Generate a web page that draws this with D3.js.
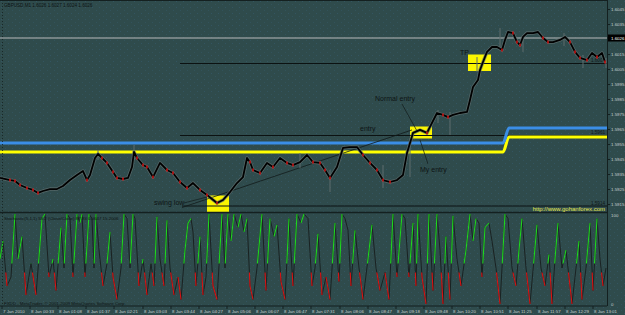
<!DOCTYPE html>
<html>
<head>
<meta charset="utf-8">
<script src="https://cdn.jsdelivr.net/npm/d3@7"></script>
<style>
  html, body { margin: 0; padding: 0; background: #2f4b4c; overflow: hidden; }
  svg { display: block; }
</style>
</head>
<body>
<div id="chart"></div>
<script>
// GBPUSD M1 chart with stochastic sub-window, MetaTrader look.

// ---- data -------------------------------------------------------------
const priceBar = [0,10,15,20,27,33,38,43,50,57,63,70,77,83,87,90,95,98,102,107,113,117,123,128,132,134,137,143,147,153,
  160,167,173,180,187,193,200,207,217,223,230,237,243,247,250,253,260,267,273,280,287,293,300,307,313,320,325,330,337,343,
  350,357,363,370,377,383,390,397,403,407,410,413,420,427,430,437,443,448,453,460,467,470,473,478,480,483,487,492,497,502,
  505,508,513,517,520,523,527,533,538,543,548,553,560,565,570,575,580,587,592,597,602,605];
const priceClose = [1.59327,1.59313,1.59307,1.5928,1.5926,1.59247,1.59227,1.5924,1.59253,1.59253,1.59273,1.59313,1.59347,1.59373,1.59313,1.59347,1.5946,1.59487,1.5946,1.59427,
  1.59367,1.59327,1.5932,1.59327,1.594,1.595,1.5946,1.59413,1.594,1.59333,1.59427,1.5938,1.5936,1.593,1.5926,1.59293,1.59247,1.59213,1.5916,1.5918,
  1.59233,1.59293,1.59333,1.5946,1.59433,1.5938,1.5936,1.59427,1.594,1.5946,1.59427,1.59413,1.59433,1.5948,1.59433,1.59427,1.5938,1.59327,1.594,1.59527,
  1.59533,1.59533,1.5948,1.59427,1.5938,1.59313,1.593,1.59313,1.59347,1.59493,1.5956,1.59627,1.59647,1.59627,1.59667,1.5976,1.59747,1.59733,1.59747,1.5976,
  1.59767,1.59847,1.59933,1.5998,1.60047,1.601,1.60167,1.602,1.602,1.6018,1.60247,1.603,1.60293,1.60233,1.60213,1.60267,1.60293,1.60293,1.603,1.6026,
  1.60233,1.60233,1.60247,1.60267,1.60233,1.60167,1.60127,1.60113,1.6016,1.60133,1.6016,1.601];

// isolated long wicks
const spikeBar  = [98, 134, 300, 330, 383, 410, 438, 450, 477, 500, 523, 564, 583, 606];
const spikeHigh = [1.59513,1.59547,1.59493,1.5938,1.59413,1.59593,1.5978,1.59767,1.60133,1.60327,1.6028,1.60293,1.60147,1.60127];
const spikeLow  = [1.59447,1.59447,1.59393,1.59233,1.5926,1.59333,1.59693,1.59613,1.60033,1.6018,1.60167,1.60207,1.6006,1.6006];

// indicator levels (blue / yellow), stepping up late in the session
const levelBar    = [0, 503, 509, 607];
const blueLevel   = [1.5956, 1.5956, 1.5966, 1.5966];
const yellowLevel = [1.5950, 1.5950, 1.5960, 1.5960];

// manual horizontal lines
const hLinePrice = [1.6009, 1.5961, 1.5914];
const hLineFrom  = [180, 180, 182];

// highlight boxes
const boxBar0 = [207, 410, 468];
const boxBar1 = [229, 432, 491];
const boxLo   = [1.5910, 1.5959, 1.6004];
const boxHi   = [1.5921, 1.5967, 1.6015];

// trend line from the swing low
const trendBar = [182, 412];
const trendVal = [1.5913, 1.59647];

const lastPrice  = 1.6026;
const priceTicks = [1.6045,1.6035,1.6015,1.6005,1.5995,1.5985,1.5975,1.5965,1.5955,1.5945,1.5935,1.5925,1.5915];

const timeBars   = [2,30,58,86,114,143,171,199,227,255,283,311,340,368,396,424,452,480,508,537,565,593];
const timeLabels = ['7 Jan 2010','8 Jan 00:33','8 Jan 01:08','8 Jan 01:37','8 Jan 02:21','8 Jan 03:03','8 Jan 03:44',
  '8 Jan 04:27','8 Jan 05:06','8 Jan 06:07','8 Jan 06:47','8 Jan 07:31','8 Jan 08:06','8 Jan 08:47','8 Jan 09:18',
  '8 Jan 09:48','8 Jan 10:20','8 Jan 10:51','8 Jan 11:25','8 Jan 11:57','8 Jan 12:29','8 Jan 13:01'];

// stochastic
const oscBar = [0,3,7,11,15,18,22,26,31,36,42,45,49,53,56,61,64,67,70,73,77,80,82,85,89,92,94,96,99,103,107,110,113,117,121,124,127,130,133,135,
  139,143,147,151,154,157,160,164,167,170,174,178,181,185,188,191,193,196,200,203,206,209,213,217,222,225,228,231,234,238,241,244,247,250,253,257,
  262,266,270,274,277,281,285,289,293,297,301,304,308,312,315,318,322,326,330,335,339,342,345,348,351,355,359,363,368,372,376,380,385,389,393,397,
  402,405,409,413,416,418,422,426,429,433,437,440,443,446,450,453,457,461,466,470,473,476,479,482,485,489,492,496,500,505,508,512,516,519,522,526,
  530,534,537,541,545,549,552,555,558,562,566,569,572,576,579,582,586,590,593,597,600,603,606];
const oscVal = [50,70,20,30,100,50,75,10,45,10,95,100,30,50,15,85,40,100,95,30,100,90,100,30,100,95,40,100,60,20,45,80,30,5,40,100,95,40,100,95,
  20,50,10,45,20,97,50,20,93,40,10,30,5,60,90,95,80,20,75,10,30,100,20,5,100,40,100,70,100,85,100,80,95,20,5,40,
  100,15,95,75,88,25,5,95,20,100,90,100,95,20,40,78,10,30,5,90,25,100,95,82,20,82,40,5,50,88,40,15,35,5,100,30,
  100,95,30,90,20,100,30,0,100,15,100,60,0,75,5,98,50,20,60,100,70,95,90,30,85,90,70,40,0,100,95,40,20,60,95,40,
  0,50,88,40,20,55,0,50,90,40,60,30,0,40,70,5,40,90,15,95,50,20,40];

// ---- layout -----------------------------------------------------------
const W = 625, H = 315;
const plotR = 607;
const mainTop = 2, mainBot = 212, oscTop = 213, oscBot = 305;

const C = {
  bg: '#2f4b4c', dot: '#3c6d92', frame: '#142020', text: '#0e1414', axis: '#c6cfcf',
  price: '#000000', shadow: '#5f6d6d', red: '#d81414', green: '#1fd61f',
  blue: '#3b8ee6', yellow: '#ffff00', box: '#fbf500', last: '#b9b9b9'
};
const FONT = '"Liberation Sans", Arial, sans-serif';

const x  = d3.scaleLinear().domain([0, 607]).range([0, plotR]);
const yP = d3.scaleLinear().domain([lastPrice, 1.5914]).range([38, 206]);
const yS = d3.scaleLinear().domain([0, 100]).range([304, 214]);

const svg = d3.select('#chart').append('svg')
  .attr('width', W).attr('height', H)
  .attr('viewBox', `0 0 ${W} ${H}`);

const defs = svg.append('defs');
const pat = defs.append('pattern').attr('id', 'speck')
  .attr('width', 7).attr('height', 6).attr('patternUnits', 'userSpaceOnUse');
pat.append('rect').attr('width', 7).attr('height', 6).attr('fill', C.bg);
pat.append('rect').attr('x', 1).attr('y', 1).attr('width', 1).attr('height', 1).attr('fill', C.dot).attr('opacity', 0.3);
pat.append('rect').attr('x', 5).attr('y', 4).attr('width', 1).attr('height', 1).attr('fill', C.dot).attr('opacity', 0.22);

defs.append('clipPath').attr('id', 'clipMain').append('rect')
  .attr('x', 0).attr('y', mainTop).attr('width', plotR).attr('height', mainBot - mainTop);
defs.append('clipPath').attr('id', 'clipOsc').append('rect')
  .attr('x', 0).attr('y', oscTop).attr('width', plotR).attr('height', oscBot - oscTop);
// upper and lower zones for colouring the stochastic
defs.append('clipPath').attr('id', 'clipHigh').append('rect')
  .attr('x', 0).attr('y', oscTop).attr('width', plotR).attr('height', yS(45) - oscTop);
defs.append('clipPath').attr('id', 'clipLow').append('rect')
  .attr('x', 0).attr('y', yS(35)).attr('width', plotR).attr('height', oscBot - yS(35));

svg.append('rect').attr('width', W).attr('height', H).attr('fill', 'url(#speck)');

// ---- main panel -------------------------------------------------------
const main = svg.append('g').attr('clip-path', 'url(#clipMain)');

// current price line
main.append('line')
  .attr('x1', 0).attr('x2', plotR)
  .attr('y1', yP(lastPrice)).attr('y2', yP(lastPrice))
  .attr('stroke', C.last).attr('stroke-width', 1);

// highlight boxes
main.selectAll('rect.box').data(boxBar0).join('rect')
  .attr('class', 'box')
  .attr('x', (d, i) => x(d))
  .attr('y', (d, i) => yP(boxHi[i]))
  .attr('width', (d, i) => x(boxBar1[i]) - x(d))
  .attr('height', (d, i) => yP(boxLo[i]) - yP(boxHi[i]))
  .attr('fill', C.box);

// manual lines
main.selectAll('line.hl').data(hLinePrice).join('line')
  .attr('class', 'hl')
  .attr('x1', (d, i) => x(hLineFrom[i])).attr('x2', plotR)
  .attr('y1', d => yP(d)).attr('y2', d => yP(d))
  .attr('stroke', '#0c1212').attr('stroke-width', 1);
main.selectAll('text.hl').data(hLinePrice).join('text')
  .attr('class', 'hl')
  .attr('x', plotR - 2).attr('y', d => yP(d) - 1.5)
  .attr('text-anchor', 'end')
  .style('font-family', FONT).style('font-size', '4.6px')
  .style('fill', '#101818')
  .text(d => d.toFixed(4));

// indicator levels
const levelLine = d3.line().x((d, i) => x(levelBar[i])).y(d => yP(d)).curve(d3.curveMonotoneX);
main.append('path').attr('d', levelLine(yellowLevel))
  .attr('fill', 'none').attr('stroke', C.yellow).attr('stroke-width', 3);
main.append('path').attr('d', levelLine(blueLevel))
  .attr('fill', 'none').attr('stroke', C.blue).attr('stroke-width', 3);

// trend line
main.append('line')
  .attr('x1', x(trendBar[0])).attr('y1', yP(trendVal[0]))
  .attr('x2', x(trendBar[1])).attr('y2', yP(trendVal[1]))
  .attr('stroke', '#111a1a').attr('stroke-width', 0.8);

// wicks
main.selectAll('line.spike').data(spikeBar).join('line')
  .attr('class', 'spike')
  .attr('x1', d => x(d)).attr('x2', d => x(d))
  .attr('y1', (d, i) => yP(spikeHigh[i])).attr('y2', (d, i) => yP(spikeLow[i]))
  .attr('stroke', C.shadow).attr('stroke-width', 1);

// price: soft grey body, black line, red down-ticks
const priceLine = d3.line().x((d, i) => x(priceBar[i])).y(d => yP(d));
main.append('path').attr('d', priceLine(priceClose))
  .attr('fill', 'none').attr('stroke', C.shadow).attr('stroke-width', 3.4)
  .attr('stroke-linejoin', 'round').attr('opacity', 0.75);
main.append('path').attr('d', priceLine(priceClose))
  .attr('fill', 'none').attr('stroke', C.price).attr('stroke-width', 1.8)
  .attr('stroke-linejoin', 'round');
main.selectAll('rect.dn').data(priceClose.map((p, i) => i).filter(i => i > 0 && priceClose[i] < priceClose[i - 1]))
  .join('rect')
  .attr('class', 'dn')
  .attr('x', i => x(priceBar[i]) - 0.75).attr('y', i => yP(priceClose[i]) - 1.5)
  .attr('width', 1.5).attr('height', 3)
  .attr('fill', C.red);

// annotations
const note = (txt, bar, price) => main.append('text')
  .attr('x', x(bar)).attr('y', yP(price))
  .style('font-family', FONT).style('font-size', '7px')
  .style('fill', C.text).text(txt);
note('swing low', 154, 1.5915);
note('entry', 360, 1.5964);
note('Normal entry', 375, 1.5984);
note('My entry', 420, 1.59367);
note('TP', 460, 1.60147);

const pointer = (b0, p0, b1, p1) => main.append('line')
  .attr('x1', x(b0)).attr('y1', yP(p0)).attr('x2', x(b1)).attr('y2', yP(p1))
  .attr('stroke', '#111a1a').attr('stroke-width', 0.7);
pointer(184, 1.5916, 207, 1.5920);
pointer(402, 1.5982, 417, 1.5964);
pointer(428, 1.5942, 420, 1.5958);

// ---- stochastic panel -------------------------------------------------
const osc = svg.append('g').attr('clip-path', 'url(#clipOsc)');
const oscLine = d3.line().x((d, i) => x(oscBar[i])).y(d => yS(d));
osc.append('path').attr('d', oscLine(oscVal))
  .attr('fill', 'none').attr('stroke', '#1a2222').attr('stroke-width', 1);

// rising legs drawn green in the upper zone, falling legs red in the lower zone
const legs = oscVal.slice(1).map((v, k) => k);
const legPath = k => `M${x(oscBar[k])},${yS(oscVal[k])}L${x(oscBar[k + 1])},${yS(oscVal[k + 1])}`;
osc.append('g').attr('clip-path', 'url(#clipHigh)')
  .selectAll('path').data(legs.filter(k => oscVal[k + 1] > oscVal[k])).join('path')
  .attr('d', legPath).attr('stroke', C.green).attr('stroke-width', 1.1).attr('fill', 'none');
osc.append('g').attr('clip-path', 'url(#clipLow)')
  .selectAll('path').data(legs.filter(k => oscVal[k + 1] < oscVal[k])).join('path')
  .attr('d', legPath).attr('stroke', C.red).attr('stroke-width', 1.1).attr('fill', 'none');

// ---- frame ------------------------------------------------------------
svg.append('line').attr('x1', 0).attr('x2', plotR).attr('y1', 0.5).attr('y2', 0.5)
  .attr('stroke', C.frame).attr('stroke-width', 1);
svg.append('line').attr('x1', 0).attr('x2', plotR).attr('y1', mainBot + 0.5).attr('y2', mainBot + 0.5)
  .attr('stroke', C.frame).attr('stroke-width', 1.5);
svg.append('line').attr('x1', 0).attr('x2', plotR).attr('y1', oscBot + 1).attr('y2', oscBot + 1)
  .attr('stroke', C.frame).attr('stroke-width', 1);
svg.append('line').attr('x1', plotR + 0.5).attr('x2', plotR + 0.5).attr('y1', 0).attr('y2', oscBot + 1)
  .attr('stroke', C.frame).attr('stroke-width', 1);
svg.append('line').attr('x1', 2.5).attr('x2', 2.5).attr('y1', 0).attr('y2', oscBot)
  .attr('stroke', C.frame).attr('stroke-width', 0.8).attr('stroke-dasharray', '1 2');

// ---- axes -------------------------------------------------------------
const axisText = sel => sel.style('font-family', FONT).style('font-size', '4.4px').style('fill', C.axis);

svg.selectAll('line.pt').data(priceTicks).join('line')
  .attr('class', 'pt')
  .attr('x1', plotR).attr('x2', plotR + 3)
  .attr('y1', d => yP(d)).attr('y2', d => yP(d))
  .attr('stroke', C.frame);
svg.selectAll('text.pt').data(priceTicks).join('text')
  .attr('class', 'pt')
  .attr('x', plotR + 4).attr('y', d => yP(d) + 1.6)
  .call(axisText)
  .text(d => d.toFixed(4));

// current price tag
svg.append('rect').attr('x', plotR + 1).attr('y', yP(lastPrice) - 3.5)
  .attr('width', W - plotR - 1).attr('height', 7).attr('fill', '#000');
svg.append('text').attr('x', plotR + 4).attr('y', yP(lastPrice) + 1.6)
  .style('font-family', FONT).style('font-size', '4.4px').style('fill', '#fff')
  .text(lastPrice.toFixed(4));

// stochastic scale
svg.selectAll('text.st').data([100, 0]).join('text')
  .attr('class', 'st')
  .attr('x', plotR + 4).attr('y', d => yS(d) + (d === 100 ? 3 : 1.5))
  .call(axisText)
  .text(d => d);

// time axis
svg.selectAll('line.tt').data(timeBars).join('line')
  .attr('class', 'tt')
  .attr('x1', d => x(d)).attr('x2', d => x(d))
  .attr('y1', oscBot + 1).attr('y2', oscBot + 4)
  .attr('stroke', C.frame);
svg.selectAll('text.tt').data(timeBars).join('text')
  .attr('class', 'tt')
  .attr('x', d => x(d) + 1).attr('y', 312.5)
  .call(axisText)
  .text((d, i) => timeLabels[i]);

// ---- captions ---------------------------------------------------------
const caption = (txt, px, py, size, fill) => svg.append('text')
  .attr('x', px).attr('y', py)
  .style('font-family', FONT).style('font-size', size).style('fill', fill)
  .text(txt);
caption('GBPUSD,M1  1.6026 1.6027 1.6024 1.6026', 4, 6.5, '4.6px', C.text);
caption('Stochastic(5,1,1) 53.2 (Close/Close) 87.93 0.0647 15.2006', 4, 219.5, '4.4px', C.text);
caption('FXDD - MetaTrader, \u00a9 2001-2009 MetaQuotes Software Corp.', 4, 305, '4.4px', C.text);
caption('http://www.gohanforex.com', 605, 211, '6px', '#e6e650').attr('text-anchor', 'end');
</script>
</body>
</html>
